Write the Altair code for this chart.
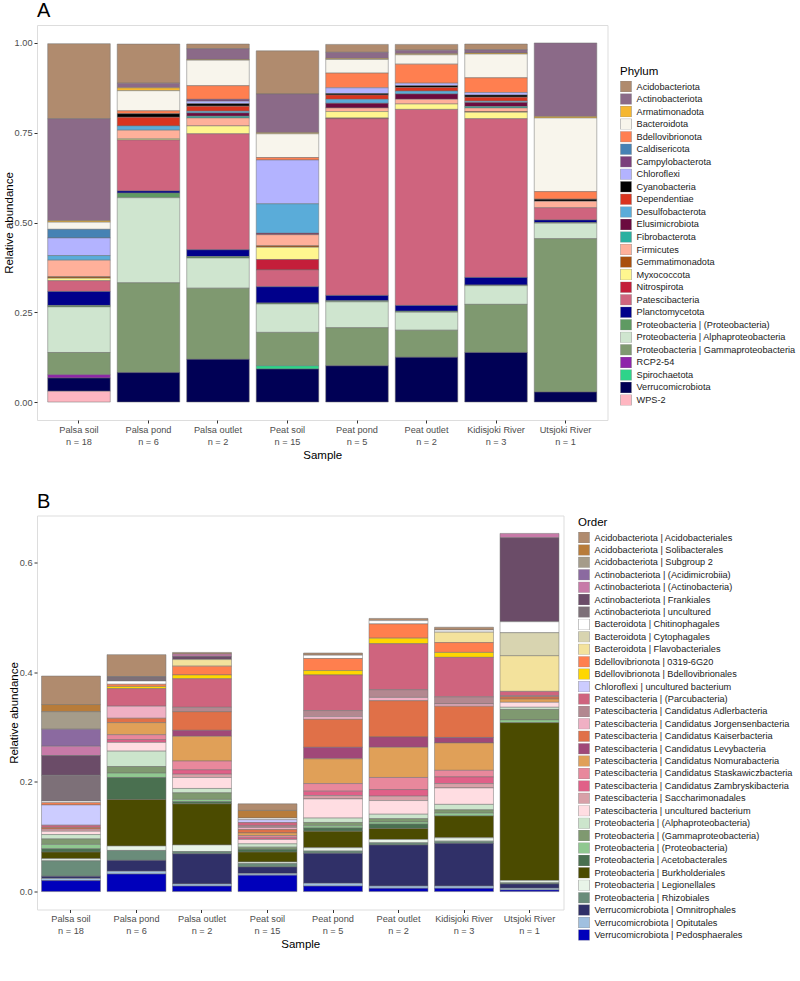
import altair as alt
import pandas as pd

FONT = "Liberation Sans"

# Sample groups and sizes
samples = ["Palsa soil", "Palsa pond", "Palsa outlet", "Peat soil",
           "Peat pond", "Peat outlet", "Kidisjoki River", "Utsjoki River"]
sample_n = [18, 6, 2, 15, 5, 2, 3, 1]

# ---------------- Phylum level ----------------
phyla = [
    "Acidobacteriota", "Actinobacteriota", "Armatimonadota", "Bacteroidota",
    "Bdellovibrionota", "Caldisericota", "Campylobacterota", "Chloroflexi",
    "Cyanobacteria", "Dependentiae", "Desulfobacterota", "Elusimicrobiota",
    "Fibrobacterota", "Firmicutes", "Gemmatimonadota", "Myxococcota",
    "Nitrospirota", "Patescibacteria", "Planctomycetota",
    "Proteobacteria | (Proteobacteria)", "Proteobacteria | Alphaproteobacteria",
    "Proteobacteria | Gammaproteobacteria", "RCP2-54", "Spirochaetota",
    "Verrucomicrobiota", "WPS-2",
]
phylum_colors = [
    "#b08b6e", "#8b6a88", "#f5b731", "#f8f5ec", "#ff7f50", "#4682b4",
    "#7b3f7b", "#b3b3ff", "#000000", "#d9341f", "#5aacd9", "#6b0b3f",
    "#2ab0a0", "#ffb09a", "#a9500e", "#fff68f", "#c41e3a", "#cf647e",
    "#00008b", "#5f9a62", "#cfe5cf", "#7f9970", "#8e24aa", "#2ed48a",
    "#000055", "#ffb6c1",
]

# relative abundance per phylum (same order as `phyla`)
palsa_soil_phy = [0.209, 0.284, 0.004, 0.020, 0, 0.024, 0, 0.049, 0, 0, 0.013, 0, 0,
                  0.046, 0.004, 0.007, 0, 0.030, 0.039, 0.004, 0.127, 0.062, 0.009, 0,
                  0.037, 0.030]
palsa_pond_phy = [0.109, 0.013, 0.008, 0.056, 0.008, 0, 0, 0, 0.010, 0.024, 0.012, 0, 0,
                  0.024, 0, 0.003, 0, 0.142, 0.006, 0.013, 0.237, 0.250, 0, 0,
                  0.082, 0]
palsa_outlet_phy = [0.013, 0.030, 0.002, 0.071, 0.038, 0, 0.005, 0.007, 0.007, 0.014, 0.005,
                    0.009, 0.005, 0.022, 0, 0.022, 0, 0.323, 0.019, 0.004, 0.084, 0.198,
                    0, 0, 0.119, 0]
peat_soil_phy = [0.120, 0.108, 0.003, 0.066, 0.007, 0, 0, 0.122, 0, 0, 0.082, 0.004, 0,
                 0.031, 0.004, 0.034, 0.029, 0.047, 0.045, 0.003, 0.079, 0.093, 0, 0.009,
                 0.092, 0]
peat_pond_phy = [0.022, 0.017, 0.003, 0.038, 0.041, 0, 0, 0.016, 0.004, 0.012, 0.011, 0.013,
                 0, 0.010, 0, 0.018, 0.002, 0.492, 0.015, 0.003, 0.072, 0.106, 0, 0,
                 0.101, 0]
peat_outlet_phy = [0.016, 0.010, 0.003, 0.026, 0.053, 0, 0, 0.007, 0.005, 0.010, 0.008, 0.015,
                   0, 0.013, 0, 0.015, 0, 0.546, 0.016, 0.003, 0.050, 0.075, 0, 0,
                   0.125, 0]
kidisjoki_phy = [0.016, 0.009, 0.003, 0.066, 0.041, 0, 0, 0.007, 0.006, 0.011, 0.004, 0.011,
                 0.004, 0.010, 0.002, 0.018, 0, 0.442, 0.021, 0.002, 0.052, 0.134, 0, 0,
                 0.138, 0]
utsjoki_phy = [0, 0.205, 0.004, 0.205, 0.021, 0, 0, 0, 0.006, 0, 0, 0, 0,
               0.018, 0, 0, 0, 0.034, 0.007, 0.002, 0.043, 0.427, 0, 0,
               0.028, 0]

# ---------------- Order level ----------------
orders = [
    "Acidobacteriota | Acidobacteriales", "Acidobacteriota | Solibacterales",
    "Acidobacteriota | Subgroup 2", "Actinobacteriota | (Acidimicrobiia)",
    "Actinobacteriota | (Actinobacteria)", "Actinobacteriota | Frankiales",
    "Actinobacteriota | uncultured", "Bacteroidota | Chitinophagales",
    "Bacteroidota | Cytophagales", "Bacteroidota | Flavobacteriales",
    "Bdellovibrionota | 0319-6G20", "Bdellovibrionota | Bdellovibrionales",
    "Chloroflexi | uncultured bacterium", "Patescibacteria | (Parcubacteria)",
    "Patescibacteria | Candidatus Adlerbacteria",
    "Patescibacteria | Candidatus Jorgensenbacteria",
    "Patescibacteria | Candidatus Kaiserbacteria",
    "Patescibacteria | Candidatus Levybacteria",
    "Patescibacteria | Candidatus Nomurabacteria",
    "Patescibacteria | Candidatus Staskawiczbacteria",
    "Patescibacteria | Candidatus Zambryskibacteria",
    "Patescibacteria | Saccharimonadales", "Patescibacteria | uncultured bacterium",
    "Proteobacteria | (Alphaproteobacteria)", "Proteobacteria | (Gammaproteobacteria)",
    "Proteobacteria | (Proteobacteria)", "Proteobacteria | Acetobacterales",
    "Proteobacteria | Burkholderiales", "Proteobacteria | Legionellales",
    "Proteobacteria | Rhizobiales", "Verrucomicrobiota | Omnitrophales",
    "Verrucomicrobiota | Opitutales", "Verrucomicrobiota | Pedosphaerales",
]
order_colors = [
    "#b08b6e", "#b87c3a", "#a59c8a", "#8b6aa0", "#c77aa8", "#6b4c68", "#7d7078",
    "#ffffff", "#d8d4b0", "#f3e29c", "#ff7f4e", "#ffd700", "#ccccff", "#cf647e",
    "#b38890", "#f0b0c4", "#e07048", "#a04878", "#e0a058", "#e8889c", "#e06088",
    "#d8a0a8", "#ffdde2", "#cce5cc", "#7f9970", "#90c890", "#4a7050", "#4b4b00",
    "#e8f4e8", "#6a8c7a", "#303068", "#a0c0e0", "#0000bb",
]

# relative abundance per order (same order as `orders`)
palsa_soil_ord = [0.052, 0.013, 0.032, 0.031, 0.017, 0.036, 0.047, 0.003, 0, 0, 0.004, 0,
                  0.037, 0.004, 0, 0, 0.003, 0, 0, 0, 0, 0.004, 0.006, 0.008, 0.010,
                  0.008, 0.006, 0.012, 0.004, 0.028, 0.004, 0.004, 0.020]
palsa_pond_ord = [0.040, 0, 0, 0, 0, 0, 0.008, 0.006, 0, 0, 0.004, 0.004,
                  0, 0.032, 0, 0.022, 0.008, 0, 0.022, 0.009, 0.005, 0, 0.016, 0.028, 0.012,
                  0.008, 0.040, 0.085, 0.008, 0.018, 0.020, 0.005, 0.032]
palsa_outlet_ord = [0.003, 0, 0, 0, 0.004, 0.006, 0, 0, 0, 0.012, 0.016, 0.007,
                    0, 0.052, 0.008, 0, 0.034, 0.011, 0.045, 0.016, 0.008, 0.006, 0.020,
                    0.008, 0.012, 0.004, 0.004, 0.075, 0.012, 0.004, 0.055, 0.004, 0.010]
peat_soil_ord = [0.012, 0.014, 0, 0, 0, 0, 0, 0.003, 0, 0, 0, 0,
                 0.005, 0.006, 0.003, 0.004, 0.006, 0, 0.005, 0.004, 0.003, 0, 0.008,
                 0.006, 0.004, 0, 0.005, 0.018, 0.003, 0.006, 0.012, 0.003, 0.030]
peat_pond_ord = [0.004, 0, 0, 0, 0, 0, 0, 0.006, 0, 0, 0.022, 0.008,
                 0, 0.065, 0.011, 0.005, 0.051, 0.021, 0.045, 0.014, 0.008, 0.006, 0.035,
                 0.008, 0.006, 0.004, 0.006, 0.030, 0.006, 0.004, 0.055, 0.005, 0.010]
peat_outlet_ord = [0.004, 0, 0, 0, 0, 0, 0, 0.006, 0, 0, 0.026, 0.010,
                   0, 0.084, 0.014, 0.006, 0.066, 0.019, 0.055, 0.022, 0.012, 0.008, 0.025,
                   0.008, 0.006, 0.004, 0.008, 0.020, 0.006, 0.004, 0.075, 0.004, 0.006]
kidisjoki_ord = [0.005, 0, 0, 0, 0, 0, 0, 0.004, 0, 0.019, 0.018, 0.009,
                 0, 0.072, 0.013, 0.004, 0.057, 0.010, 0.050, 0.012, 0.012, 0.008, 0.030,
                 0.010, 0.006, 0.005, 0, 0.040, 0.006, 0.004, 0.078, 0.004, 0.006]
utsjoki_ord = [0, 0, 0, 0, 0.008, 0.153, 0, 0.020, 0.042, 0.065, 0, 0,
               0, 0.008, 0.002, 0, 0.004, 0, 0.006, 0, 0, 0, 0.009,
               0.004, 0.019, 0.005, 0, 0.288, 0.004, 0.002, 0.008, 0.003, 0.003]

phylum_table = [palsa_soil_phy, palsa_pond_phy, palsa_outlet_phy, peat_soil_phy,
                peat_pond_phy, peat_outlet_phy, kidisjoki_phy, utsjoki_phy]
order_table = [palsa_soil_ord, palsa_pond_ord, palsa_outlet_ord, peat_soil_ord,
               peat_pond_ord, peat_outlet_ord, kidisjoki_ord, utsjoki_ord]

sample_labels = [f"{s}\nn = {n}" for s, n in zip(samples, sample_n)]


def long_table(taxa, table):
    rows = []
    for label, values in zip(sample_labels, table):
        for i, (taxon, v) in enumerate(zip(taxa, values)):
            if v > 0:
                rows.append({"label": label, "taxon": taxon, "idx": i, "value": v})
    return pd.DataFrame(rows)


df_phylum = long_table(phyla, phylum_table)
df_order = long_table(orders, order_table)

x_axis = alt.Axis(
    labelExpr="split(datum.label, '\\n')", labelAngle=0, labelFontSize=9.2,
    labelColor="#4d4d4d", labelLineHeight=12, labelPadding=2, tickSize=3,
    tickColor="#333333", domain=False, titleFontSize=11.5, titleFontWeight="normal",
    titleColor="#000000", titlePadding=3, labelFont=FONT, titleFont=FONT,
)


def y_axis(values, fmt):
    return alt.Axis(
        values=values, format=fmt, labelFontSize=9.2, labelColor="#4d4d4d",
        tickSize=3, tickColor="#333333", domain=False, grid=False, labelPadding=2,
        titleFontSize=11.5, titleFontWeight="normal", titleColor="#000000",
        titlePadding=0, labelFont=FONT, titleFont=FONT,
    )


def legend(title, lx, ly, row_gap):
    return alt.Legend(
        title=title, orient="none", legendX=lx, legendY=ly, symbolType="square",
        symbolSize=121, clipHeight=11, symbolStrokeColor="#8a8a8a",
        symbolStrokeWidth=0.5, symbolOpacity=1, symbolLimit=60,
        labelFontSize=9.2, labelFont=FONT, labelColor="#1a1a1a",
        titleFontSize=11.5, titleFont=FONT, titleFontWeight="normal",
        titleColor="#000000", titlePadding=3.5, rowPadding=row_gap, labelOffset=4.5,
        padding=0, labelLimit=400,
    )


def tag(letter):
    return alt.Title(letter, anchor="start", frame="group", fontSize=20, font=FONT,
                     fontWeight="normal", color="#000000", offset=4)


panel_a = alt.Chart(df_phylum).mark_bar(stroke="#707070", strokeWidth=0.5).encode(
    x=alt.X("label:N", sort=sample_labels, title="Sample", axis=x_axis,
            scale=alt.Scale(paddingInner=0.1, paddingOuter=0.154)),
    y=alt.Y("value:Q", title="Relative abundance", stack="zero",
            axis=y_axis([0, 0.25, 0.5, 0.75, 1.0], ".2f"),
            scale=alt.Scale(domain=[-0.05, 1.05], nice=False, zero=False)),
    color=alt.Color("taxon:N", scale=alt.Scale(domain=phyla, range=phylum_colors),
                    legend=legend("Phylum", 583, 41, 1.54)),
    order=alt.Order("idx:Q", sort="descending"),
).properties(width=570.5, height=395, title=tag("A"))

# tallest stack in the order-level panel sets the y range (5 % expansion each side)
top_b = 0.653
panel_b = alt.Chart(df_order).mark_bar(stroke="#707070", strokeWidth=0.5).encode(
    x=alt.X("label:N", sort=sample_labels, title="Sample", axis=x_axis,
            scale=alt.Scale(paddingInner=0.1, paddingOuter=0.069)),
    y=alt.Y("value:Q", title="Relative abundance", stack="zero",
            axis=y_axis([0, 0.2, 0.4, 0.6], ".1f"),
            scale=alt.Scale(domain=[-0.05 * top_b, 1.05 * top_b], nice=False, zero=False)),
    color=alt.Color("taxon:N", scale=alt.Scale(domain=orders, range=order_colors),
                    legend=legend("Order", 541, 1.5, 1.42)),
    order=alt.Order("idx:Q", sort="descending"),
).properties(width=526.5, height=394, title=tag("B"))

chart = alt.vconcat(panel_a, panel_b, spacing=28.5).resolve_scale(
    color="independent", x="independent", y="independent"
).properties(
    padding={"left": 2, "top": 0, "right": 0, "bottom": 0},
    background="#ffffff",
).configure_view(stroke=None).configure(font=FONT)

chart.save("out.html", embed_options={"renderer": "svg", "actions": False})
